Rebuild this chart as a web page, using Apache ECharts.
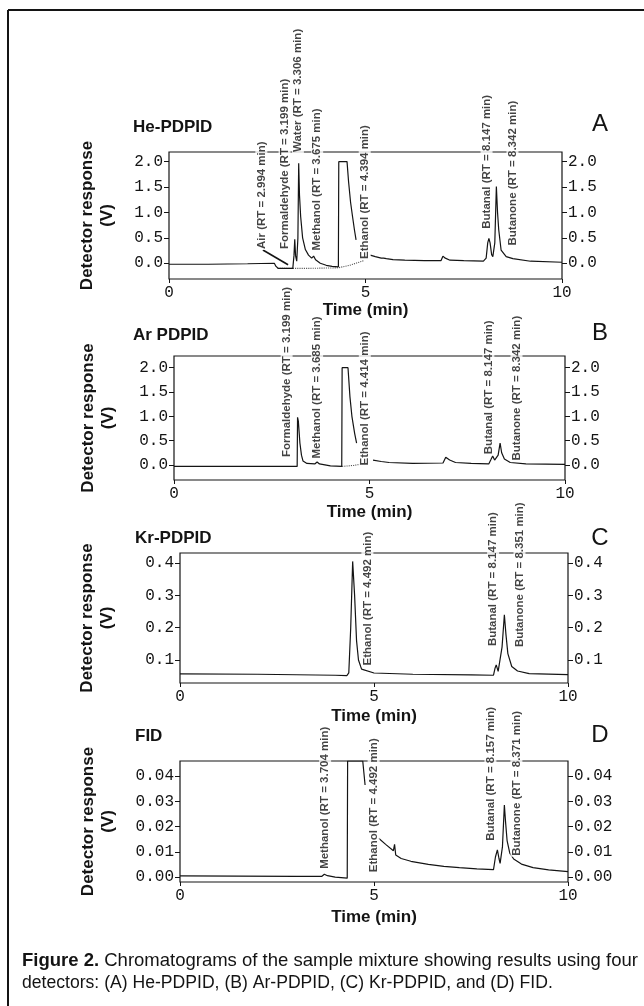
<!DOCTYPE html>
<html><head><meta charset="utf-8">
<style>html,body{margin:0;padding:0;background:#fff}#c{width:644px;height:1006px}</style>
<script src="https://cdn.jsdelivr.net/npm/echarts@6.0.0/dist/echarts.min.js"></script>
</head><body><div id="c"></div>
<script>
// ---------------- data ----------------
const timeTicks = [0, 5, 10];
const heTicks = [0, 0.5, 1.0, 1.5, 2.0];
const arTicks = [0, 0.5, 1.0, 1.5, 2.0];
const krTicks = [0.1, 0.2, 0.3, 0.4];
const fidTicks = [0, 0.01, 0.02, 0.03, 0.04];

// He-PDPID
const heTrace1 = [[0,-0.02],[1.0,-0.02],[2.0,-0.01],[2.68,0.0],[2.72,-0.06],[2.78,-0.1],[3.15,-0.1],[3.18,0.15],[3.2,0.47],[3.22,0.15],[3.25,0.04],[3.28,0.5],[3.3,1.97],[3.32,1.35],[3.35,0.92],[3.4,0.5],[3.47,0.27],[3.55,0.16],[3.63,0.1],[3.68,0.14],[3.73,0.07],[3.85,0.0],[4.0,-0.04],[4.15,-0.06],[4.31,-0.07],[4.32,2.0],[4.53,2.0],[4.57,1.6],[4.62,1.2],[4.67,0.92],[4.72,0.65],[4.76,0.46]];
const heTrace2 = [[5.12,0.16],[5.25,0.13],[5.4,0.1],[5.46,0.1],[5.49,0.13],[5.53,0.09],[5.7,0.07],[6.0,0.06],[6.5,0.05],[6.92,0.05],[6.97,0.14],[7.03,0.1],[7.15,0.06],[7.5,0.05],[8.0,0.04],[8.07,0.1],[8.11,0.4],[8.14,0.49],[8.17,0.4],[8.21,0.17],[8.24,0.13],[8.29,0.4],[8.33,1.51],[8.36,1.0],[8.39,0.66],[8.45,0.26],[8.58,0.13],[8.75,0.09],[9.2,0.04],[10,0.02]];
const heDotted = [[2.76,-0.1],[3.6,-0.1],[4.3,-0.09],[4.6,-0.04],[4.95,0.05]];
const heNames = ['Air (RT = 2.994 min)','Formaldehyde (RT = 3.199 min)','Water (RT = 3.306 min)','Methanol (RT = 3.675 min)','Ethanol (RT = 4.394 min)','Butanal (RT = 8.147 min)','Butanone (RT = 8.342 min)'];
const heAnchors = [[2.35,0.26],[2.94,0.26],[3.28,2.17],[3.77,0.23],[4.98,0.065],[8.08,0.66],[8.74,0.33]];
const heArrow = [[2.39,0.26],[3.03,-0.03]];

// Ar-PDPID
const arTrace1 = [[0,-0.03],[2.0,-0.03],[3.15,-0.03],[3.16,0.98],[3.18,0.9],[3.22,0.45],[3.26,0.2],[3.3,0.08],[3.4,0.03],[3.6,0.02],[3.66,0.06],[3.72,0.02],[4.0,-0.02],[4.29,-0.03],[4.3,2.0],[4.45,2.0],[4.5,1.4],[4.55,1.0],[4.62,0.65],[4.67,0.45]];
const arTrace2 = [[5.09,0.1],[5.3,0.07],[5.5,0.05],[6.1,0.03],[6.88,0.04],[6.95,0.16],[7.05,0.1],[7.2,0.05],[7.6,0.03],[8.05,0.02],[8.1,0.1],[8.15,0.185],[8.2,0.1],[8.23,0.06],[8.29,0.2],[8.34,0.45],[8.38,0.25],[8.45,0.12],[8.6,0.05],[9.0,0.02],[10,0.01]];
const arDotted = [[4.3,-0.03],[4.6,-0.01],[4.95,0.04]];
const arNames = ['Formaldehyde (RT = 3.199 min)','Methanol (RT = 3.685 min)','Ethanol (RT = 4.414 min)','Butanal (RT = 8.147 min)','Butanone (RT = 8.342 min)'];
const arAnchors = [[2.88,0.14],[3.66,0.11],[4.88,-0.03],[8.04,0.2],[8.76,0.07]];

// Kr-PDPID
const krTrace = [[0,0.057],[2,0.056],[4.0,0.053],[4.3,0.052],[4.35,0.06],[4.4,0.2],[4.45,0.405],[4.5,0.3],[4.55,0.16],[4.6,0.1],[4.68,0.072],[5.0,0.06],[6.0,0.056],[7.5,0.054],[8.08,0.053],[8.12,0.075],[8.15,0.085],[8.2,0.065],[8.23,0.06],[8.3,0.14],[8.36,0.24],[8.4,0.18],[8.45,0.12],[8.55,0.08],[8.7,0.066],[9.0,0.058],[10,0.055]];
const krNames = ['Ethanol (RT = 4.492 min)','Butanal (RT = 8.147 min)','Butanone (RT = 8.351 min)'];
const krAnchors = [[4.83,0.08],[8.07,0.14],[8.75,0.137]];

// FID
const fidTrace1 = [[0,0.0005],[1.5,0.0004],[3.0,0.0003],[3.65,0.0003],[3.72,0.0012],[3.8,0.0006],[4.0,0.0],[4.31,-0.0004],[4.32,0.046],[4.71,0.046],[4.77,0.0365]];
const fidTrace2 = [[5.12,0.0154],[5.3,0.013],[5.5,0.0105],[5.53,0.013],[5.56,0.0088],[5.7,0.0074],[5.95,0.0063],[6.4,0.0051],[6.8,0.0043],[7.2,0.0038],[7.65,0.0033],[8.08,0.003],[8.13,0.008],[8.18,0.0108],[8.22,0.0075],[8.25,0.0055],[8.31,0.012],[8.36,0.0286],[8.39,0.022],[8.43,0.0145],[8.5,0.0095],[8.6,0.0072],[8.8,0.0052],[9.1,0.0038],[9.5,0.0029],[10,0.0022]];
const fidNames = ['Methanol (RT = 3.704 min)','Ethanol (RT = 4.492 min)','Butanal (RT = 8.157 min)','Butanone (RT = 8.371 min)'];
const fidAnchors = [[3.74,0.0029],[4.99,0.0016],[8.0,0.014],[8.67,0.0081]];

const panelTitles = ['He-PDPID','Ar PDPID','Kr-PDPID','FID'];
const panelLetters = ['A','B','C','D'];
const captionBold = 'Figure 2.';
const captionLine1 = ' Chromatograms of the sample mixture showing results using four';
const captionLine2 = 'detectors: (A) He-PDPID, (B) Ar-PDPID, (C) Kr-PDPID, and (D) FID.';

// ---------------- layout ----------------
const SANS = '"Liberation Sans", Arial, sans-serif';
const MONO = '"Liberation Mono", "Courier New", monospace';
const INK = '#141414';

const panels = [
  {grid:{left:169, top:152, width:393, height:127}, min:-0.31, max:2.19, ticks:heTicks, dec:1, xGap:17, yGap:52,
   traces:[heTrace1, heTrace2], dotted:heDotted, names:heNames, anchors:heAnchors, arrow:heArrow,
   title:[133,127], letter:[600,124]},
  {grid:{left:174, top:356, width:391, height:124}, min:-0.31, max:2.24, ticks:arTicks, dec:1, xGap:24, yGap:56,
   traces:[arTrace1, arTrace2], dotted:arDotted, names:arNames, anchors:arAnchors,
   title:[133,335], letter:[600,333]},
  {grid:{left:180, top:553, width:388, height:130}, min:0.029, max:0.431, ticks:krTicks, dec:1, xGap:25, yGap:63,
   traces:[krTrace], names:krNames, anchors:krAnchors,
   title:[135,538], letter:[600,538]},
  {grid:{left:180, top:761, width:388, height:121}, min:-0.0019, max:0.046, ticks:fidTicks, dec:2, xGap:27, yGap:62,
   traces:[fidTrace1, fidTrace2], names:fidNames, anchors:fidAnchors,
   title:[135,736], letter:[600,735]}
];

const grids = [], xAxes = [], yAxes = [], series = [], graphics = [];

panels.forEach((p, i) => {
  grids.push(Object.assign({show:true, borderColor:INK, borderWidth:1.2, backgroundColor:'transparent'}, p.grid));
  xAxes.push({
    gridIndex:i, type:'value', min:0, max:10, interval:5,
    axisLine:{show:false, onZero:false},
    axisTick:{show:true, length:4, lineStyle:{color:INK, width:1}},
    axisLabel:{margin:6, fontFamily:MONO, fontSize:16, color:INK},
    splitLine:{show:false},
    name:'Time (min)', nameLocation:'middle', nameGap:p.xGap,
    nameTextStyle:{fontFamily:SANS, fontWeight:'bold', fontSize:17, color:INK}
  });
  ['left','right'].forEach(pos => {
    const ax = {
      gridIndex:i, type:'value', position:pos, min:p.min, max:p.max,
      axisLine:{show:false},
      axisTick:{show:true, length:5, customValues:p.ticks, lineStyle:{color:INK, width:1}},
      axisLabel:{customValues:p.ticks, formatter:v => Number(v).toFixed(p.dec), margin:6,
                 fontFamily:MONO, fontSize:16, color:INK},
      splitLine:{show:false}
    };
    if (pos === 'left') {
      ax.name = 'Detector response\n(V)';
      ax.nameLocation = 'middle';
      ax.nameRotate = 90;
      ax.nameGap = p.yGap;
      ax.nameTextStyle = {fontFamily:SANS, fontWeight:'bold', fontSize:17, color:INK, lineHeight:20, align:'center'};
    }
    yAxes.push(ax);
  });
  const yIdx = 2 * i;
  p.traces.forEach((tr, k) => {
    const s = {
      type:'line', xAxisIndex:i, yAxisIndex:yIdx, data:tr, showSymbol:false, symbol:'none',
      lineStyle:{color:INK, width:1.2}, silent:true, animation:false, z:3
    };
    if (k === 0 && p.arrow) {
      s.markLine = {
        silent:true, animation:false, symbol:['none','arrow'], symbolSize:[0,9],
        lineStyle:{color:INK, width:1.6, type:'solid'}, label:{show:false},
        data:[[{coord:p.arrow[0]},{coord:p.arrow[1]}]]
      };
    }
    series.push(s);
  });
  if (p.dotted) {
    series.push({
      type:'line', xAxisIndex:i, yAxisIndex:yIdx, data:p.dotted, showSymbol:false, symbol:'none',
      lineStyle:{color:'#555', width:1.1, type:'dotted'}, silent:true, animation:false, z:2
    });
  }
  series.push({
    type:'scatter', xAxisIndex:i, yAxisIndex:yIdx, symbol:'circle', symbolSize:0.1, clip:false,
    itemStyle:{color:'rgba(0,0,0,0)'}, silent:true, animation:false, z:5,
    data:p.names.map((n, k) => ({name:n, value:p.anchors[k]})),
    label:{show:true, formatter:'{b}', position:'inside', rotate:90, align:'left', verticalAlign:'middle',
           fontFamily:SANS, fontWeight:'bold', fontSize:11.5, color:INK, backgroundColor:'#fff', padding:[0,1]}
  });
  graphics.push({type:'text', silent:true, style:{text:panelTitles[i], x:p.title[0], y:p.title[1],
    font:'bold 17px ' + SANS, fill:INK, align:'left', verticalAlign:'middle'}});
  graphics.push({type:'text', silent:true, style:{text:panelLetters[i], x:p.letter[0], y:p.letter[1],
    font:'24px ' + SANS, fill:INK, align:'center', verticalAlign:'middle'}});
});

// frame
graphics.push({type:'line', silent:true, shape:{x1:8, y1:10, x2:644, y2:10}, style:{stroke:INK, lineWidth:2}});
graphics.push({type:'line', silent:true, shape:{x1:8, y1:10, x2:8, y2:1006}, style:{stroke:INK, lineWidth:2}});
// caption
graphics.push({type:'text', silent:true, style:{
  text:'{b|' + captionBold + '}{r|' + captionLine1 + '}', x:22, y:961, align:'left', verticalAlign:'middle',
  font:'18.5px ' + SANS, fill:INK,
  rich:{b:{font:'bold 18.5px ' + SANS, fill:INK}, r:{font:'18.5px ' + SANS, fill:INK}}
}});
graphics.push({type:'text', silent:true, style:{text:captionLine2, x:22, y:983, align:'left', verticalAlign:'middle',
  font:'17.6px ' + SANS, fill:INK}});

const chart = echarts.init(document.getElementById('c'), null, {renderer:'canvas'});
chart.setOption({
  animation:false, backgroundColor:'#fff',
  grid:grids, xAxis:xAxes, yAxis:yAxes, series:series, graphic:graphics
});
</script></body></html>
